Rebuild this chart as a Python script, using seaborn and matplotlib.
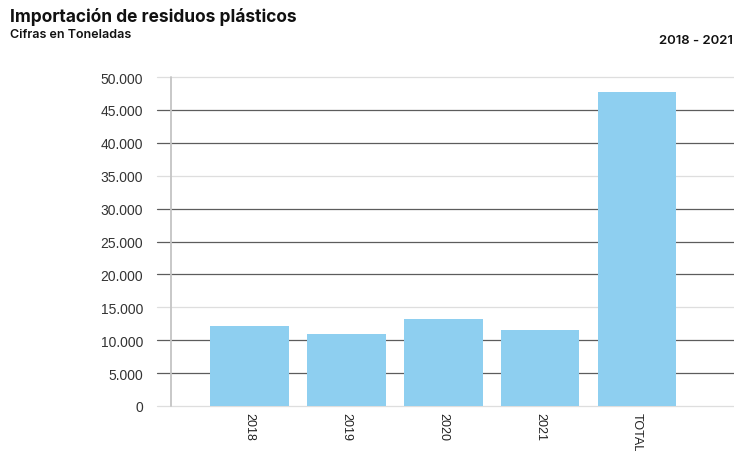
import matplotlib
matplotlib.use("Agg")
import matplotlib.pyplot as plt
import seaborn as sns
import pandas as pd

categories = ["2018", "2019", "2020", "2021", "TOTAL"]
values = [12150, 11000, 13200, 11600, 47700]
y_ticks = [0, 5000, 10000, 15000, 20000, 25000, 30000, 35000, 40000, 45000, 50000]
y_tick_labels = ["0", "5.000", "10.000", "15.000", "20.000", "25.000", "30.000",
                 "35.000", "40.000", "45.000", "50.000"]
grid_dark = [False, True, True, False, True, True, True, False, True, True, False]

sns.set_style("white")
plt.rcParams['font.family'] = ['Liberation Sans', 'DejaVu Sans']

df = pd.DataFrame({"cat": categories, "val": values})

fig = plt.figure(figsize=(7.34, 4.52), dpi=100)
ax = fig.add_axes([157/734, 1-407/452, 1-157/734, (407-78)/452])

sns.barplot(data=df, x="cat", y="val", color="#8ECFF0", saturation=1,
            width=0.81, ax=ax, zorder=3, linewidth=0)

for yv, dark in zip(y_ticks, grid_dark):
    ax.axhline(yv, color="#5c5c5c" if dark else "#dedede",
               lw=0.9, zorder=1, clip_on=False)

ax.set_xlim(-0.955, 5.0)
ax.set_ylim(0, 50000)
ax.plot([-0.81, -0.81], [0, 50000], color="#c4c4c4", lw=1.3, zorder=2, clip_on=False)

for s in ax.spines.values():
    s.set_visible(False)

ax.set_yticks(y_ticks)
ax.set_yticklabels(y_tick_labels, fontsize=10, color="#333333")
ax.tick_params(axis="y", length=0, pad=10)
ax.tick_params(axis="x", length=0, pad=4)
ax.set_xticks(range(len(categories)))
ax.set_xticklabels(categories, rotation=-90, fontsize=9, color="#222222", va="top", ha="center")
ax.set_xlabel("")
ax.set_ylabel("")

fig.text(10/734, 1-8/452, "Importación de residuos plásticos", fontsize=12.5,
         fontweight="bold", family=["Inter", "DejaVu Sans"], color="#111111", va="top", ha="left")
fig.text(10/734, 1-29/452, "Cifras en Toneladas", fontsize=9,
         fontweight="semibold", family=["Inter", "DejaVu Sans"], color="#111111", va="top", ha="left")
fig.text(733/734, 1-35/452, "2018 - 2021", fontsize=9.5,
         fontweight="semibold", family=["Inter", "DejaVu Sans"], color="#111111", va="top", ha="right")

fig.savefig("out.png", dpi=100)
